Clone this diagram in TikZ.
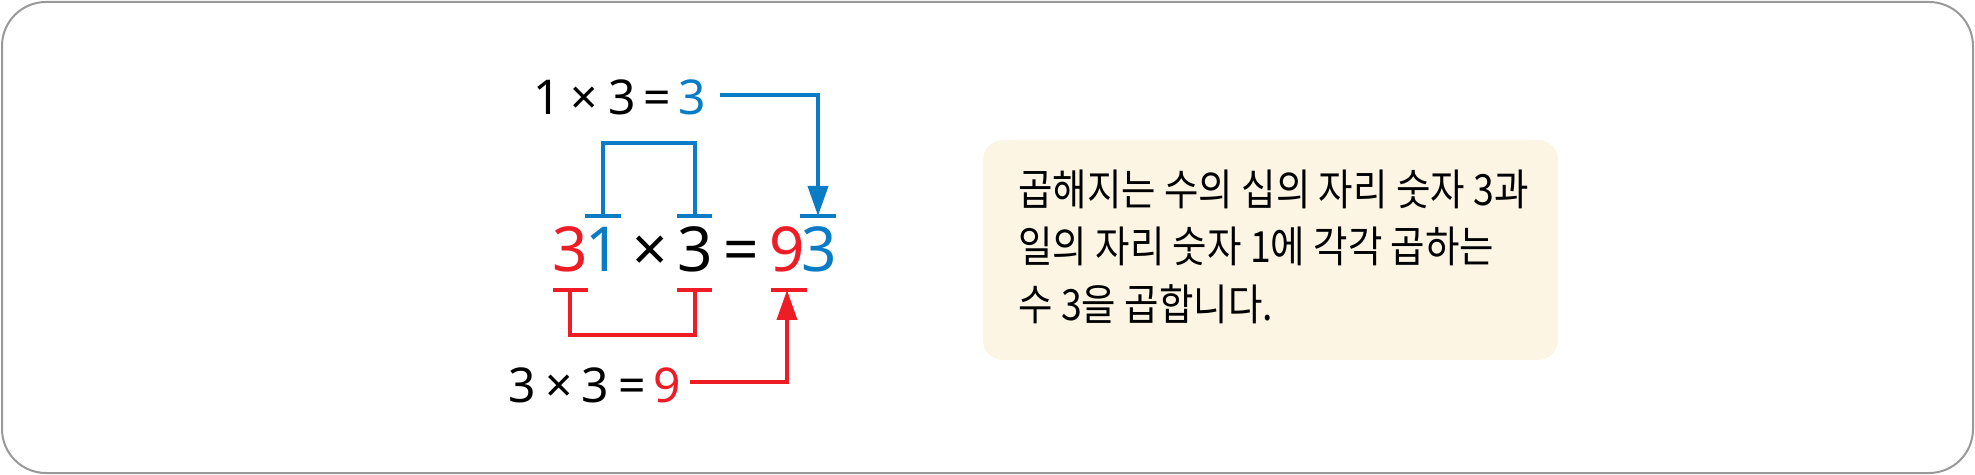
\documentclass[tikz,border=0pt]{standalone}
\usepackage{fontspec}
\setmainfont{Noto Sans}
\newfontfamily\kr[FakeStretch=0.87]{Noto Sans CJK KR}
\usetikzlibrary{arrows.meta}
\definecolor{myblue}{HTML}{0A7CC6}
\definecolor{myred}{HTML}{EE1C25}
\definecolor{frame}{HTML}{999999}
\definecolor{cream}{HTML}{FDF5E4}
\newcommand{\eqsign}{\textbf{=}}
\tikzset{
  g/.style={anchor=base, inner sep=0pt, font=\fontsize{24pt}{24pt}\selectfont},
  gb/.style={anchor=base, inner sep=0pt, font=\fontsize{31pt}{31pt}\selectfont},
  ln/.style={line width=1.9pt},
  bar/.style={line width=2pt},
  tip/.style={-{Triangle[length=15pt,width=10pt]}},
  txt/.style={anchor=base west, inner sep=0pt, font=\kr\fontsize{21.5pt}{21.5pt}\selectfont}
}
\begin{document}
\begin{tikzpicture}[x=0.5pt,y=-0.5pt]
\useasboundingbox (0,0) rectangle (1975,475);
\draw[frame, line width=1pt, rounded corners=22pt] (2,2) rectangle (1973,473);
% top equation
\node[g] (t1) at (547,115) {1};
\node[g] (tx) at (584,115) {×};
\node[g] (t3) at (622,115) {3};
\node[g] (te) at (657,115) {\eqsign};
\node[g, text=myblue] (tr) at (692,115) {3};
% main equation
\node[gb, text=myred] (m3) at (570,272) {3};
\node[gb, text=myblue] (m1) at (603,272) {1};
\node[gb] (mx) at (650,272) {×};
\node[gb] (mb) at (695,272) {3};
\node[gb] (me) at (741,272) {\eqsign};
\node[gb, text=myred] (m9) at (787,272) {9};
\node[gb, text=myblue] (mr) at (819,272) {3};
% bottom equation
\node[g] (b1) at (522,402) {3};
\node[g] (bx) at (559,402) {×};
\node[g] (b3) at (595,402) {3};
\node[g] (be) at (632,402) {\eqsign};
\node[g, text=myred] (br) at (667,402) {9};
% blue bars and bracket
\coordinate (bl) at (603,216);
\coordinate (brr) at (695,216);
\coordinate (bt) at (818,216);
\draw[myblue, bar] (585,216) -- (621,216);
\draw[myblue, bar] (677,216) -- (712,216);
\draw[myblue, bar] (800,216) -- (836,216);
\draw[myblue, ln] (bl) -- (603,143) -- (695,143) -- (brr);
\coordinate (ts) at (720,95);
\draw[myblue, ln, tip] (ts) -| (bt);
% red bars and bracket
\coordinate (rl) at (570,290);
\coordinate (rr) at (695,290);
\coordinate (rt) at (787,290);
\draw[myred, bar] (553,290) -- (588,290);
\draw[myred, bar] (677,290) -- (712,290);
\draw[myred, bar] (771,290) -- (807,290);
\draw[myred, ln] (rl) -- (570,335) -- (695,335) -- (rr);
\coordinate (rs) at (690,382);
\draw[myred, ln, tip] (rs) -| (rt);
% text box
\fill[cream, rounded corners=10pt] (983,140) rectangle (1558,360);
\node[txt] (l1) at (1018,206) {곱해지는 수의 십의 자리 숫자 3과};
\node[txt] (l2) at (1018,263) {일의 자리 숫자 1에 각각 곱하는};
\node[txt] (l3) at (1018,321) {수 3을 곱합니다.};
\end{tikzpicture}
\end{document}
